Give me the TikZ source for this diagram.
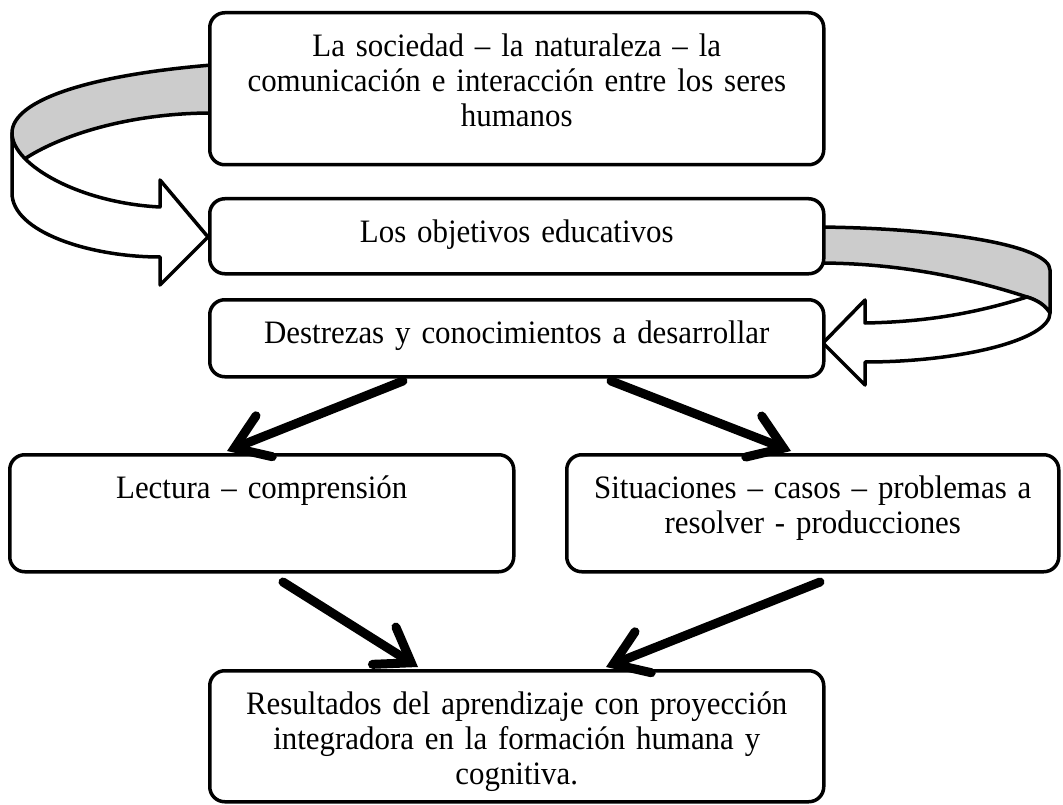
\documentclass[tikz,border=0pt]{standalone}
\usepackage{fontspec}
\setmainfont{Liberation Serif}[FakeStretch=0.945]
\usetikzlibrary{arrows.meta}
\definecolor{cinta}{gray}{0.8}

\begin{document}
\begin{tikzpicture}[x=1pt, y=-1pt,
    caja/.style={draw, line width=3.5pt, rounded corners=15pt, fill=white, inner sep=0pt,
      align=center, anchor=north west, text height=44pt, font=\fontsize{32.7}{35}\selectfont},
    flecha/.style={line width=9pt, line cap=round,
      -{Straight Barb[length=32pt, width=44pt, line width=9pt, line cap=round]}},
    curva/.style={draw, line width=3.5pt, line join=round}]
  \useasboundingbox (0,0) rectangle (1063,805);

  % curved arrow, left
  \draw[curva, fill=cinta] (212,65) .. controls (90,75) and (12,100) .. (12,133)
    .. controls (12,145) and (15,153) .. (23,160)
    .. controls (60,135) and (130,113) .. (212,113);
  \draw[curva, fill=white] (12,133) -- (12,193) .. controls (12,232) and (90,257) .. (160,257)
    -- (160,285) -- (208,237) -- (160,180) -- (160,207)
    .. controls (80,203) and (12,165) .. (12,133) -- cycle;

  % curved arrow, right
  \draw[curva, fill=cinta] (818,227) .. controls (940,228) and (1050,245) .. (1050,270)
    -- (1050,313) .. controls (1045,305) and (1037,300) .. (1027,297)
    .. controls (960,275) and (890,263) .. (818,263);
  \draw[curva, fill=white] (1027,297) .. controls (970,315) and (920,322) .. (865,323)
    -- (865,300) -- (823,343) -- (865,385) -- (865,362)
    .. controls (960,362) and (1050,340) .. (1050,313)
    .. controls (1045,305) and (1037,300) .. (1027,297) -- cycle;

  \node[caja, text width=614pt, text depth=108pt] (soc) at (208,11)
    {La sociedad – la naturaleza – la\\comunicación e interacción entre los seres\\humanos};
  \node[caja, text width=614pt, text depth=31pt] (obj) at (208,197) {Los objetivos educativos};
  \node[caja, text width=614pt, text depth=33pt] (des) at (208,298) {Destrezas y conocimientos a desarrollar};
  \node[caja, text width=504pt, text depth=73pt] (lec) at (8,453) {Lectura – comprensión};
  \node[caja, text width=492pt, text depth=73pt] (sit) at (565,453)
    {Situaciones – casos – problemas a\\resolver - producciones};
  \node[caja, text width=614pt, text depth=87pt] (res) at (208,669)
    {Resultados del aprendizaje con proyección\\integradora en la formación humana y\\cognitiva.};

  \coordinate (iA) at (403,381);
  \coordinate (fA) at (227,451);
  \coordinate (iB) at (611,381);
  \coordinate (fB) at (791,451);
  \coordinate (iC) at (283,582);
  \coordinate (fC) at (418,667);
  \coordinate (iD) at (820,582);
  \coordinate (fD) at (606,667);
  \draw[flecha] (iA) -- (fA);
  \draw[flecha] (iB) -- (fB);
  \draw[flecha] (iC) -- (fC);
  \draw[flecha] (iD) -- (fD);
\end{tikzpicture}
\end{document}
